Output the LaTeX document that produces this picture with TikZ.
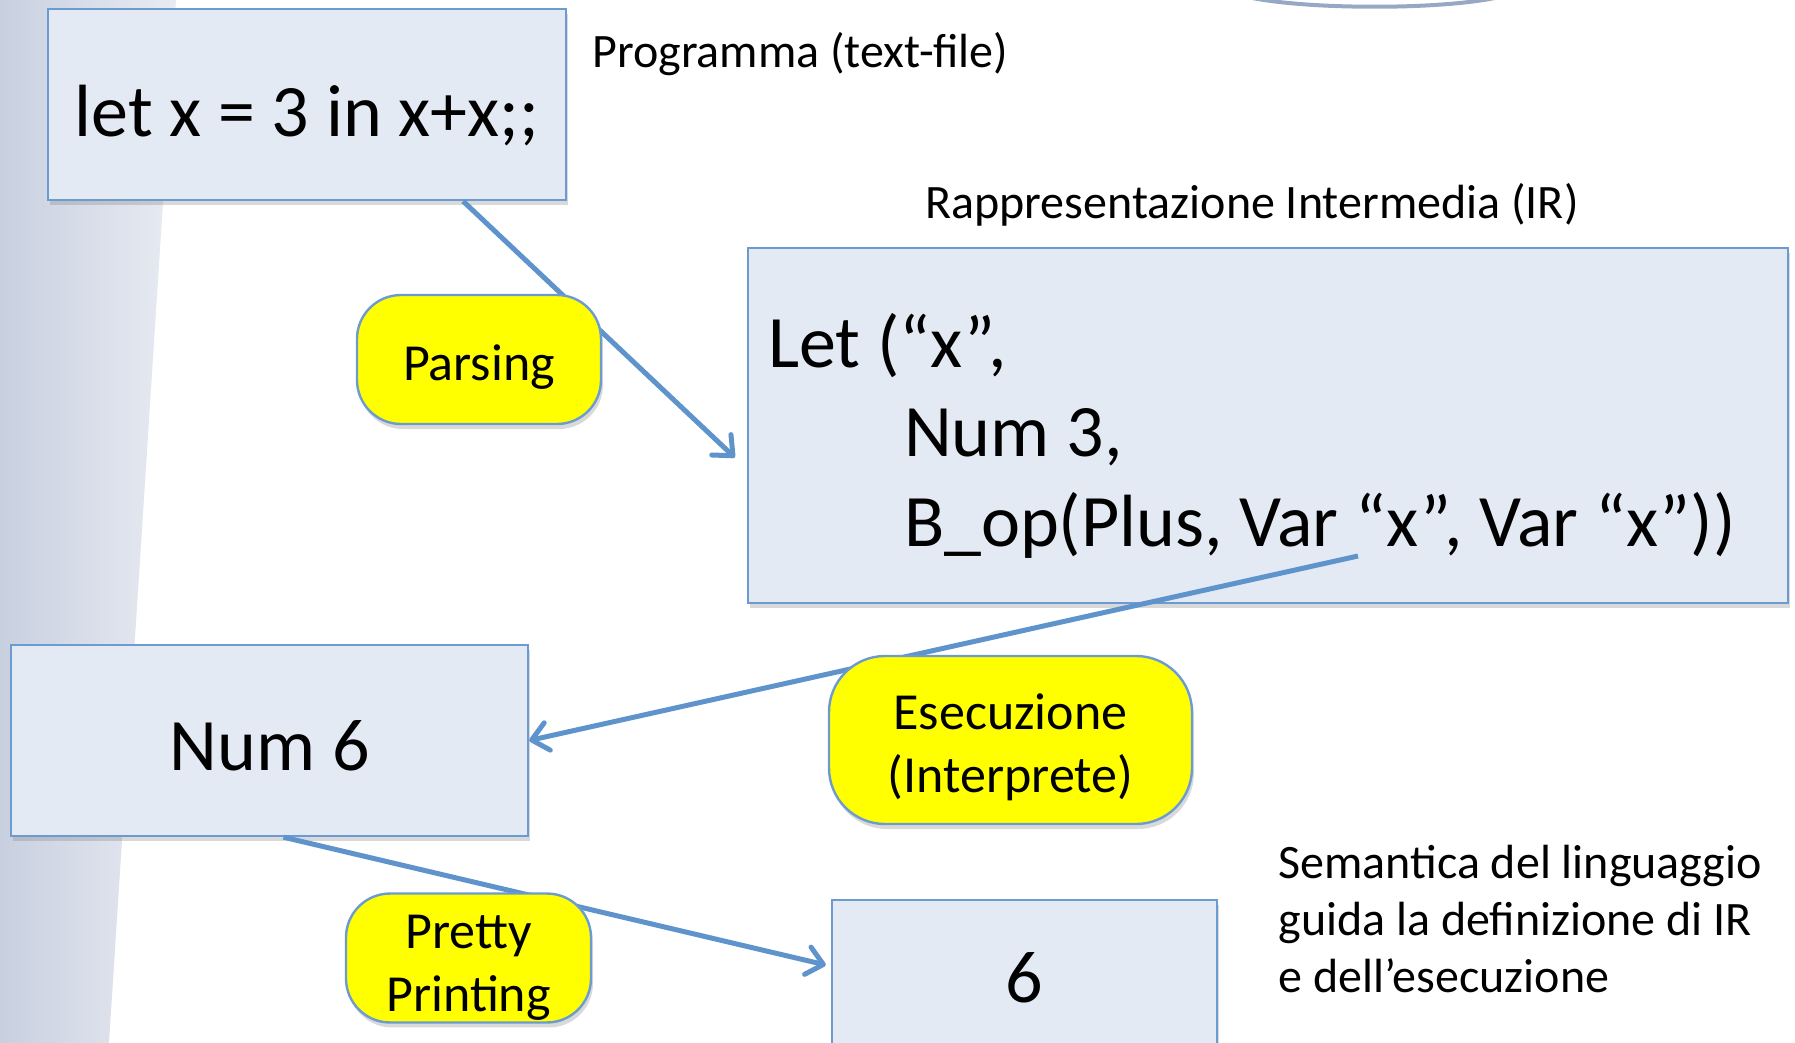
\documentclass[tikz,border=0pt]{standalone}
\usepackage{fontspec}
\setmainfont{Carlito}
\usetikzlibrary{arrows.meta,shadows,calc}

\definecolor{boxfill}{HTML}{E3EAF4}
\definecolor{boxline}{HTML}{6C9BD2}
\definecolor{arrowc}{HTML}{5F93CC}
\definecolor{yel}{HTML}{FFFF00}
\definecolor{bandl}{HTML}{C8D0E0}
\definecolor{bandr}{HTML}{E8EBF2}
\definecolor{curvec}{HTML}{97A8C5}

\newcommand\txtbig{\fontsize{37}{44.75}\selectfont}
\newcommand\txtnote{\fontsize{24}{28.6}\selectfont}
\newcommand\txtstep{\fontsize{26}{31.5}\selectfont}

\begin{document}
\begin{tikzpicture}[x=0.5pt,y=-0.5pt,
    box/.style={draw=boxline,line width=1.2pt,fill=boxfill,font=\txtbig,
      drop shadow={opacity=0.3,shadow xshift=1pt,shadow yshift=-2.5pt}},
    phase/.style={draw=boxline,line width=1.2pt,fill=yel,rounded corners=22pt,
      align=center,font=\txtstep,inner ysep=1pt,
      drop shadow={opacity=0.3,shadow xshift=1pt,shadow yshift=-2.5pt}},
    note/.style={anchor=west,font=\txtnote,inner sep=0pt,align=flush left},
    flow/.style={draw=arrowc,line width=2.5pt,-{Straight Barb[length=8pt,width=14pt,round]}}]
    \useasboundingbox (0,0) rectangle (1795,1043);
    % background
    \shade[left color=bandl,right color=bandr] (0,0) -- (176,0) -- (109,1043) -- (0,1043) -- cycle;
    \draw[curvec,line width=2pt] (1236,-6) .. controls (1290,11) and (1460,11) .. (1510,-6);

    \node[box,minimum width=259pt,minimum height=95.5pt,text height=34pt,text depth=2pt] (prog) at (307,104.5) {let x = 3 in x+x;;};
    \node[box,minimum width=520pt,minimum height=177.5pt,text width=500pt,inner xsep=10pt,align=flush left,text height=37pt] (ir) at (1268,425.5)
        {Let (“x”,\\ \hspace*{68pt}Num 3,\\ \hspace*{68pt}B\_op(Plus, Var “x”, Var “x”))};
    \node[box,minimum width=258.5pt,minimum height=95.5pt,text height=30pt,text depth=0pt] (num) at (269.5,740.5) {Num 6};
    \node[box,minimum width=192.5pt,minimum height=78pt] (six) at (1024.5,978) {6};

    \coordinate (evalstart) at (1358,556);
    \draw[flow] ($(prog.south west)!0.8!(prog.south east)$) -- ([xshift=-6pt,yshift=-16pt]ir.west);
    \draw[flow] (evalstart) -- (num.east);
    \draw[flow] ([xshift=7pt]num.south) -- ([xshift=-2.5pt,yshift=6.5pt]six.west);

    \node[phase,minimum width=122pt,minimum height=64.5pt,text height=23pt,text depth=2pt] (pars) at (479,359.5) {Parsing};
    \node[phase,minimum width=181.5pt,minimum height=84pt,rounded corners=28pt,text height=57pt] (exec) at (1010.5,740) {Esecuzione\\(Interprete)};
    \node[phase,minimum width=122.5pt,minimum height=64pt,text height=58pt] (pp) at (468.5,958) {Pretty\\Printing};

    \node[note] (proglab) at (592,54) {Programma (text-file)};
    \node[note] (irlab) at (925,205) {Rappresentazione Intermedia (IR)};
    \node[note] (sem) at (1278,919) {Semantica del linguaggio\\guida la definizione di IR\\e dell’esecuzione};
\end{tikzpicture}
\end{document}
